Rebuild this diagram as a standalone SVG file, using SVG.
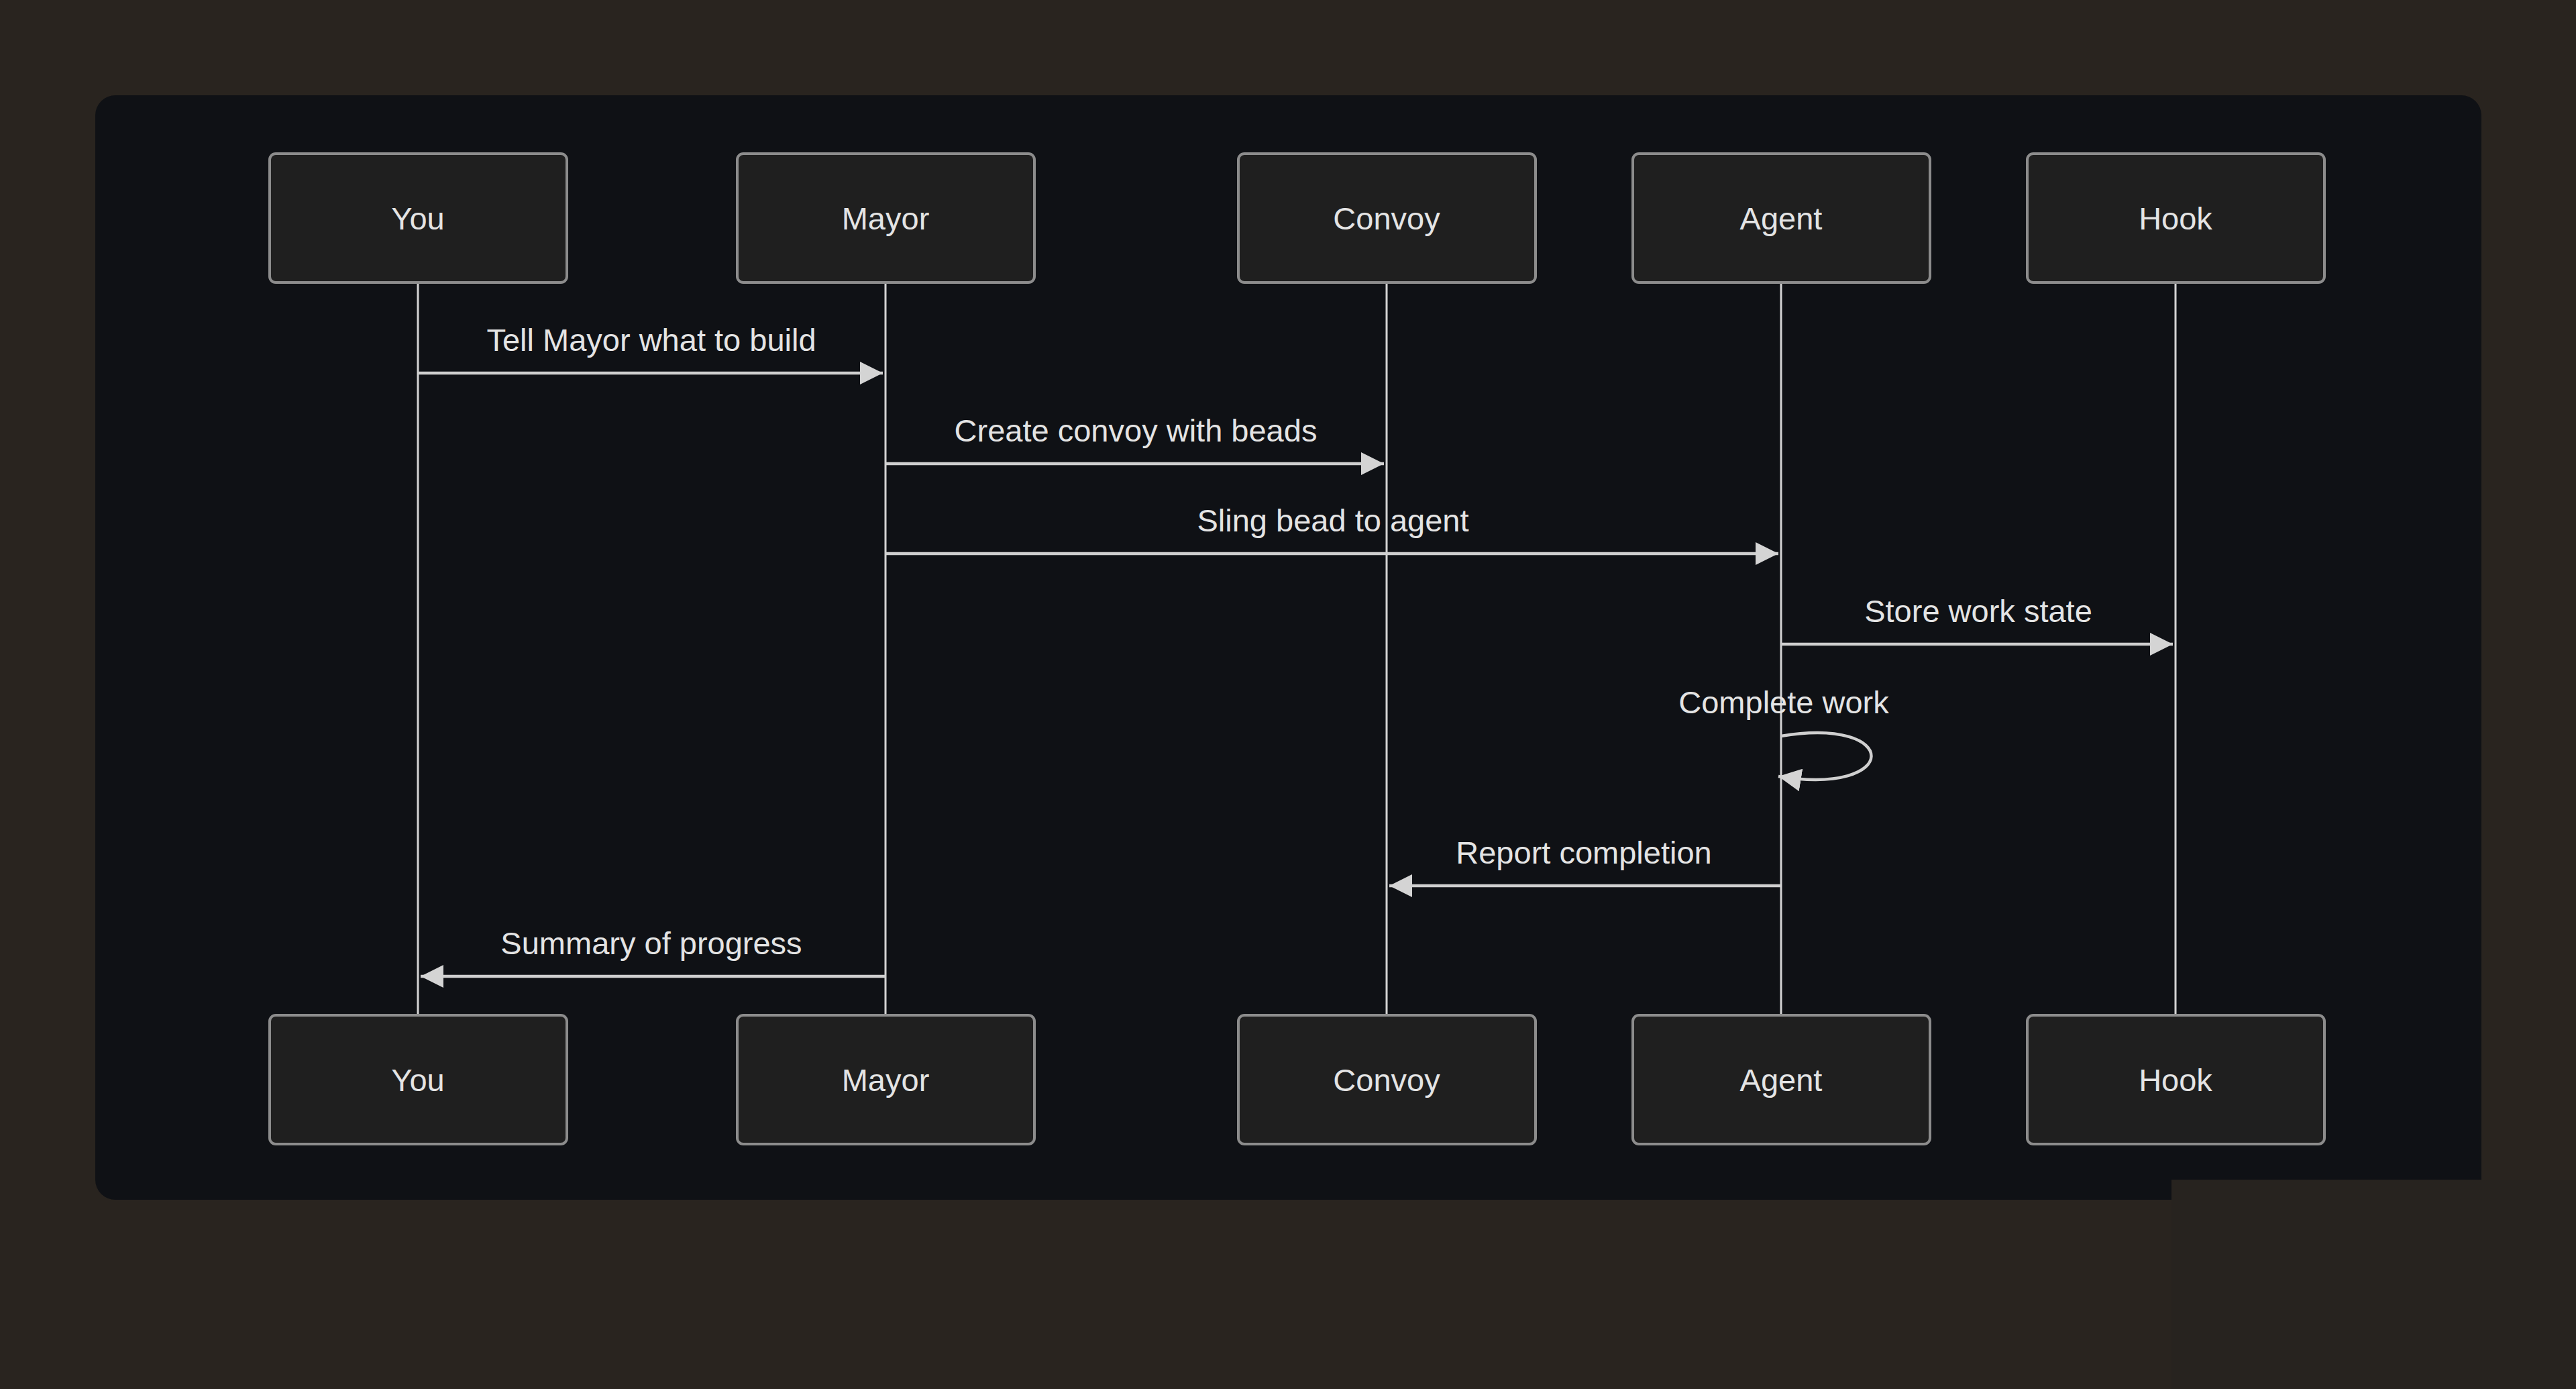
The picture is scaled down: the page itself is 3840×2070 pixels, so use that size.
<svg xmlns="http://www.w3.org/2000/svg" width="3840" height="2070" viewBox="0 0 3840 2070">
<defs>
<style>
.actor rect{fill:#1f1f1f;stroke:#8c8c8c;stroke-width:4}
.actor text{fill:#e4e4e4;font-family:"Liberation Sans",Arial,sans-serif;font-size:47px;text-anchor:middle;dominant-baseline:central}
.life{stroke:#d4d4d4;stroke-width:3}
.msg{stroke:#cfcfcf;stroke-width:4.5;fill:none}
.lbl{fill:#e4e4e4;font-family:"Liberation Sans",Arial,sans-serif;font-size:47px;text-anchor:middle}
</style>
<marker id="ah" markerUnits="userSpaceOnUse" markerWidth="34" markerHeight="34" viewBox="0 0 32 32" refX="32" refY="16" orient="auto">
<path d="M0,0 L32,16 L0,32 Z" fill="#d4d4d4"/>
</marker>
</defs>
<rect x="0" y="0" width="3840" height="2070" fill="#29241f"/>
<rect x="142" y="142" width="3557" height="1646" rx="30" fill="#0f1115"/>
<g id="lifelines">
<line class="life" x1="623" y1="421" x2="623" y2="1513"/>
<line class="life" x1="1320" y1="421" x2="1320" y2="1513"/>
<line class="life" x1="2067" y1="421" x2="2067" y2="1513"/>
<line class="life" x1="2655" y1="421" x2="2655" y2="1513"/>
<line class="life" x1="3243" y1="421" x2="3243" y2="1513"/>
</g>
<g id="you-top" class="actor"><rect x="402" y="229" width="443" height="192" rx="9"/><text x="623" y="325">You</text></g>
<g id="mayor-top" class="actor"><rect x="1099" y="229" width="443" height="192" rx="9"/><text x="1320" y="325">Mayor</text></g>
<g id="convoy-top" class="actor"><rect x="1846" y="229" width="443" height="192" rx="9"/><text x="2067" y="325">Convoy</text></g>
<g id="agent-top" class="actor"><rect x="2434" y="229" width="443" height="192" rx="9"/><text x="2655" y="325">Agent</text></g>
<g id="hook-top" class="actor"><rect x="3022" y="229" width="443" height="192" rx="9"/><text x="3243" y="325">Hook</text></g>
<g id="you-bottom" class="actor"><rect x="402" y="1513" width="443" height="192" rx="9"/><text x="623" y="1609">You</text></g>
<g id="mayor-bottom" class="actor"><rect x="1099" y="1513" width="443" height="192" rx="9"/><text x="1320" y="1609">Mayor</text></g>
<g id="convoy-bottom" class="actor"><rect x="1846" y="1513" width="443" height="192" rx="9"/><text x="2067" y="1609">Convoy</text></g>
<g id="agent-bottom" class="actor"><rect x="2434" y="1513" width="443" height="192" rx="9"/><text x="2655" y="1609">Agent</text></g>
<g id="hook-bottom" class="actor"><rect x="3022" y="1513" width="443" height="192" rx="9"/><text x="3243" y="1609">Hook</text></g>
<g id="connectors">
<line class="msg" x1="623" y1="556" x2="1316" y2="556" marker-end="url(#ah)"/>
<text class="lbl" x="971" y="523">Tell Mayor what to build</text>
<line class="msg" x1="1320" y1="691" x2="2063" y2="691" marker-end="url(#ah)"/>
<text class="lbl" x="1693" y="658">Create convoy with beads</text>
<line class="msg" x1="1320" y1="825" x2="2651" y2="825" marker-end="url(#ah)"/>
<text class="lbl" x="1987" y="792">Sling bead to agent</text>
<line class="msg" x1="2655" y1="960" x2="3239" y2="960" marker-end="url(#ah)"/>
<text class="lbl" x="2949" y="927">Store work state</text>
<path class="msg" d="M2655,1097 C2835,1067 2835,1187 2651,1157" marker-end="url(#ah)"/>
<text class="lbl" x="2659" y="1063">Complete work</text>
<line class="msg" x1="2655" y1="1320" x2="2071" y2="1320" marker-end="url(#ah)"/>
<text class="lbl" x="2361" y="1287">Report completion</text>
<line class="msg" x1="1320" y1="1455" x2="627" y2="1455" marker-end="url(#ah)"/>
<text class="lbl" x="971" y="1422">Summary of progress</text>
</g>
<rect x="3237" y="1758" width="603" height="312" fill="#27231f"/>
</svg>
